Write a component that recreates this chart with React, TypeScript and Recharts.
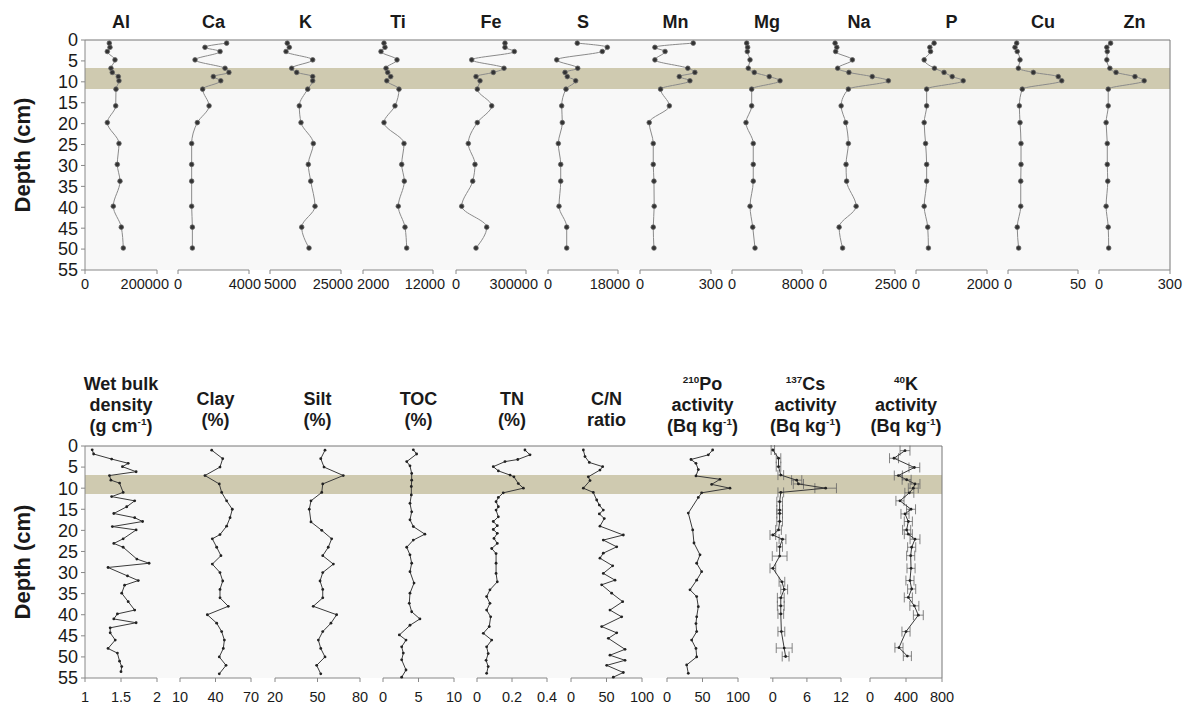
import React from "react";
import {
  ComposedChart,
  LineChart,
  Line,
  XAxis,
  YAxis,
  CartesianGrid,
  ReferenceArea,
  ReferenceLine,
  ErrorBar,
} from "recharts";

// ---- upper panel: elements (mg/kg), sampled at the same depths ----
const elemDepth = [0.75, 1.75, 2.75, 4.75, 6.75, 7.75, 8.75, 9.75, 11.75, 15.75, 19.75, 24.75, 29.75, 33.75, 39.75, 44.75, 49.75];

const al = [67500, 69400, 62000, 83300, 72200, 75800, 92500, 94400, 86100, 85300, 62000, 94400, 89700, 97200, 78600, 100800, 106400];
const ca = [2740, 1520, 2370, 960, 2650, 2870, 1990, 2410, 1390, 1750, 1090, 770, 770, 770, 770, 810, 810];
const kEl = [9870, 10440, 9510, 17030, 11110, 12520, 17030, 17030, 15620, 13250, 13730, 17200, 15790, 16470, 17680, 13930, 15990];
const ti = [5000, 5140, 4570, 6860, 5290, 5530, 5960, 5400, 7140, 6570, 5000, 7860, 7530, 7900, 7040, 8000, 8240];
const fe = [210000, 210000, 250000, 67300, 205700, 160000, 85700, 102900, 91300, 153000, 91300, 52700, 81400, 71600, 24400, 131600, 85700];
const s = [7530, 15250, 13960, 2240, 7640, 4370, 4960, 7120, 4630, 3520, 3680, 2650, 3270, 3270, 2830, 4810, 4810];
const mn = [225, 63, 106, 63, 202, 232, 166, 211, 87, 124, 39, 56, 56, 59, 60, 56, 59];
const mg = [1680, 1790, 1750, 2060, 1860, 2550, 4260, 5490, 2250, 2250, 1600, 2430, 2430, 2430, 2060, 2370, 2630];
const na = [420, 480, 440, 1020, 510, 900, 1710, 2270, 880, 630, 790, 880, 800, 820, 1150, 560, 680];
const p = [510, 390, 410, 230, 520, 790, 1020, 1330, 300, 300, 230, 270, 300, 300, 230, 330, 350];
const cu = [6.2, 5.0, 6.6, 8.6, 7.4, 18.1, 35.9, 38.4, 10.2, 8.1, 8.6, 9.3, 9.3, 9.1, 9.1, 6.6, 7.6];
const zn = [49, 33, 35, 33, 46, 72, 152, 191, 39, 39, 30, 35, 35, 37, 30, 39, 41];

// ---- lower panel: physical / organic / radionuclide profiles ----
const wbdDepth = [0.9, 1.9, 3.1, 4.1, 4.9, 6.1, 7.0, 8.1, 8.8, 11.0, 12.0, 13.0, 14.4, 16.0, 17.0, 17.9, 19.1, 19.9, 22.0, 23.1, 24.0, 26.8, 27.8, 28.8, 30.8, 31.9, 33.0, 34.9, 36.9, 38.9, 39.8, 41.0, 41.9, 43.1, 44.3, 46.0, 48.0, 49.1, 51.0, 52.3, 53.5];
const wbd = [1.10, 1.12, 1.37, 1.60, 1.52, 1.71, 1.34, 1.36, 1.48, 1.53, 1.37, 1.69, 1.58, 1.40, 1.69, 1.80, 1.38, 1.71, 1.53, 1.40, 1.53, 1.72, 1.89, 1.32, 1.59, 1.74, 1.55, 1.51, 1.60, 1.69, 1.45, 1.40, 1.71, 1.35, 1.35, 1.42, 1.32, 1.45, 1.48, 1.51, 1.50];

const clayDepth = [1, 3, 5, 7, 9, 11, 13, 15, 17, 19, 21, 22, 24, 26, 28, 30, 32, 34, 36, 38, 40, 42, 44, 46, 48, 50, 52, 54];
const clay = [36.8, 46.1, 43.8, 31.1, 43.2, 45.2, 49.4, 54.2, 52.3, 49.4, 43.8, 37.3, 41.0, 44.6, 37.3, 43.8, 46.1, 43.8, 43.8, 50.8, 33.1, 41.0, 45.2, 47.5, 46.6, 43.2, 48.9, 43.2];

const siltDepth = [1, 3, 5, 7, 9, 11, 13, 15, 18, 20, 22, 24, 26, 28, 30, 32, 34, 36, 38, 40, 42, 44, 46, 48, 50, 52, 54];
const silt = [55.3, 52.3, 54.6, 68.2, 53.7, 53.0, 45.4, 44.2, 45.4, 53.0, 60.0, 57.6, 53.7, 61.2, 53.7, 51.8, 53.7, 53.7, 47.0, 63.5, 59.5, 53.7, 50.6, 52.3, 55.3, 49.4, 52.3];

const tocDepth = [0.9, 1.9, 3.7, 4.7, 6.5, 8.1, 9.6, 11.6, 13.6, 15.6, 17.5, 19.1, 20.9, 22.3, 24.0, 25.8, 27.8, 29.8, 32.5, 34.9, 37.3, 39.3, 41.0, 42.5, 44.8, 46.0, 47.6, 49.1, 50.7, 53.1, 54.8];
const toc = [4.27, 4.74, 3.34, 3.8, 4.04, 4.04, 3.99, 3.99, 3.8, 4.04, 3.8, 4.27, 5.9, 4.27, 3.34, 3.8, 4.04, 3.8, 4.37, 3.8, 3.7, 4.04, 5.2, 3.8, 2.3, 3.24, 2.63, 2.86, 2.63, 3.24, 2.63];

const tnDepth = [0.95, 2.1, 3.2, 3.7, 4.9, 5.9, 6.9, 7.3, 8.9, 10.0, 11.1, 12.2, 13.2, 14.4, 15.2, 16.8, 17.9, 18.9, 19.8, 20.7, 21.9, 23.1, 24.3, 25.5, 27.8, 30.2, 32.2, 34.1, 35.7, 37.3, 38.9, 40.5, 42.8, 44.4, 46.0, 47.6, 49.2, 50.8, 52.3, 53.9];
const tn = [0.274, 0.303, 0.233, 0.16, 0.093, 0.122, 0.189, 0.211, 0.236, 0.265, 0.15, 0.122, 0.109, 0.122, 0.109, 0.122, 0.093, 0.116, 0.093, 0.116, 0.097, 0.116, 0.084, 0.109, 0.109, 0.109, 0.116, 0.074, 0.055, 0.074, 0.055, 0.078, 0.07, 0.036, 0.084, 0.055, 0.064, 0.052, 0.064, 0.055];

const cnDepth = [0.95, 2.5, 3.9, 4.9, 5.7, 7.3, 8.2, 10.0, 11.0, 12.8, 14.0, 15.2, 16.1, 17.2, 19.0, 21.1, 22.3, 23.9, 25.4, 26.6, 28.4, 30.2, 31.8, 32.9, 34.9, 36.9, 38.9, 40.5, 42.8, 44.3, 45.6, 48.2, 49.6, 50.8, 52.0, 53.7, 54.8];
const cn = [17.4, 19.7, 25.8, 44.6, 40.8, 24.4, 26.8, 17.4, 31.4, 36.2, 39.9, 45.5, 39.9, 46.9, 40.8, 73.7, 45.5, 64.4, 45.5, 40.8, 58.7, 45.5, 62.0, 43.2, 57.3, 72.8, 54.9, 71.4, 43.2, 64.4, 52.6, 76.1, 54.9, 76.1, 50.3, 73.7, 59.6];

const poDepth = [0.95, 2.1, 3.2, 4.1, 5.6, 7.1, 7.9, 9.1, 10.0, 11.1, 12.2, 15.9, 19.9, 23.0, 25.8, 27.8, 29.8, 31.8, 34.1, 35.7, 38.1, 40.5, 42.1, 44.0, 46.0, 48.0, 50.0, 51.9, 53.9];
const po = [64.3, 58.2, 33.8, 40.8, 44.1, 40.8, 74.6, 62.9, 88.7, 48.8, 44.1, 30.0, 36.2, 38.0, 46.5, 41.8, 48.8, 41.8, 32.4, 41.8, 44.1, 41.8, 40.8, 41.8, 34.7, 40.8, 41.8, 27.7, 30.0];

const csDepth = [0.95, 2.9, 4.9, 6.9, 8.1, 9.0, 10.0, 11.0, 13.2, 15.2, 16.0, 17.9, 19.9, 21.1, 22.1, 23.9, 26.1, 29.0, 32.2, 34.0, 36.0, 37.9, 39.8, 44.0, 47.9, 49.9];
const cs = [0, 1.0, 1.0, 1.4, 4.2, 4.5, 9.3, 1.4, 1.2, 1.2, 1.2, 1.2, 1.0, 0, 1.7, 1.2, 1.2, 0, 1.6, 2.0, 1.4, 1.4, 1.4, 1.5, 2.0, 2.25];
const csErr = [0.3, 0.4, 0.4, 0.5, 0.9, 0.9, 1.9, 0.5, 0.5, 0.5, 0.5, 0.5, 0.5, 0.5, 0.6, 0.5, 1.3, 0.5, 0.5, 0.6, 0.6, 0.6, 0.5, 0.6, 1.4, 0.6];

const k40Depth = [1.1, 2.9, 5.1, 7.0, 8.0, 9.0, 10.0, 11.1, 13.0, 15.0, 16.1, 17.9, 19.9, 20.9, 22.1, 24.0, 26.0, 29.0, 31.9, 33.9, 35.9, 37.9, 40.1, 44.0, 47.8, 49.8];
const k40 = [389, 267, 493, 315, 407, 500, 481, 437, 333, 456, 389, 426, 407, 426, 500, 463, 452, 456, 444, 463, 426, 493, 537, 400, 322, 415];
const k40Err = [55, 50, 60, 45, 50, 55, 55, 50, 45, 50, 45, 45, 45, 45, 55, 45, 45, 45, 45, 45, 45, 50, 55, 45, 45, 45];

const depthTicks = [0, 5, 10, 15, 20, 25, 30, 35, 40, 45, 50, 55];
const topBand = [6.7, 11.7];
const botBand = [6.9, 11.4];

type Row = { d: number; v: number; e?: number };
const zip = (depth: number[], vals: number[], err?: number[]): Row[] =>
  depth.map((d, i) => ({ d, v: vals[i], e: err ? err[i] : undefined }));

const topProfiles = [
  { name: "Al", vals: al, ticks: [0, 200000] },
  { name: "Ca", vals: ca, ticks: [0, 4000] },
  { name: "K", vals: kEl, ticks: [5000, 25000] },
  { name: "Ti", vals: ti, ticks: [2000, 12000] },
  { name: "Fe", vals: fe, ticks: [0, 300000] },
  { name: "S", vals: s, ticks: [0, 18000] },
  { name: "Mn", vals: mn, ticks: [0, 300] },
  { name: "Mg", vals: mg, ticks: [0, 8000] },
  { name: "Na", vals: na, ticks: [0, 2500] },
  { name: "P", vals: p, ticks: [0, 2000] },
  { name: "Cu", vals: cu, ticks: [0, 50] },
  { name: "Zn", vals: zn, ticks: [0, 300] },
];

const sup = (t: string) => <sup style={{ fontSize: "0.55em", lineHeight: 0 }}>{t}</sup>;

const botProfiles = [
  { title: [<>Wet bulk</>, <>density</>, <>(g cm{sup("-1")})</>], data: zip(wbdDepth, wbd), ticks: [1, 1.5, 2] },
  { title: [<>Clay</>, <>(%)</>], data: zip(clayDepth, clay), ticks: [10, 40, 70] },
  { title: [<>Silt</>, <>(%)</>], data: zip(siltDepth, silt), ticks: [20, 50, 80] },
  { title: [<>TOC</>, <>(%)</>], data: zip(tocDepth, toc), ticks: [0, 5, 10] },
  { title: [<>TN</>, <>(%)</>], data: zip(tnDepth, tn), ticks: [0, 0.2, 0.4] },
  { title: [<>C/N</>, <>ratio</>], data: zip(cnDepth, cn), ticks: [0, 50, 100] },
  { title: [<>{sup("210")}Po</>, <>activity</>, <>(Bq kg{sup("-1")})</>], data: zip(poDepth, po), ticks: [0, 50, 100] },
  { title: [<>{sup("137")}Cs</>, <>activity</>, <>(Bq kg{sup("-1")})</>], data: zip(csDepth, cs, csErr), ticks: [0, 6, 12] },
  { title: [<>{sup("40")}K</>, <>activity</>, <>(Bq kg{sup("-1")})</>], data: zip(k40Depth, k40, k40Err), ticks: [0, 400, 800] },
];

// layout (page pixels)
const TOP = { top: 0, height: 300, plotTop: 40, plotBottom: 270, right: 1170, tickMargin: 5, edgeTicks: true };
const BOT = { top: 400, height: 310, plotTop: 446, plotBottom: 678, right: 942, tickMargin: 10, edgeTicks: false };
const topSlots = [85, 178, 270, 363, 456, 548, 640, 732, 823, 916, 1008, 1099];
const topWidths = [72, 71, 71, 70, 70, 70, 71, 70, 72, 71, 70, 71];
const botSlots = [85, 180, 275, 383, 477, 571, 667, 770, 870];
const botWidths = [72, 71, 85, 71, 70, 71, 71, 71, 72];

type Panel = typeof TOP;
const TICK_FONT = 14.5;

function Frame({ panel, band }: { panel: Panel; band: number[] }) {
  return (
    <div style={{ position: "absolute", left: 0, top: panel.top }}>
      <ComposedChart
        width={panel.right + 5}
        height={panel.height}
        data={[{ x: 0, d: 0 }]}
        margin={{ top: panel.plotTop - panel.top, right: 5, left: 0, bottom: panel.top + panel.height - panel.plotBottom }}
      >
        <CartesianGrid horizontal={false} vertical={false} fill="#f8f8f8" />
        <XAxis type="number" dataKey="x" domain={[0, 1]} hide />
        <YAxis
          type="number"
          dataKey="d"
          domain={[0, 55]}
          ticks={depthTicks}
          interval={0}
          reversed
          width={85}
          tickSize={4}
          tickMargin={3}
          tick={{ fontSize: 18, fill: "#1a1a1a" }}
          axisLine={{ stroke: "#888" }}
          tickLine={{ stroke: "#888" }}
          label={{
            value: "Depth (cm)",
            angle: -90,
            position: "insideLeft",
            offset: 22,
            style: { textAnchor: "middle", fontSize: 22, fontWeight: "bold", fill: "#1a1a1a" },
          }}
        />
        <ReferenceArea y1={band[0]} y2={band[1]} fill="#cfcab0" fillOpacity={1} stroke="none" />
        <ReferenceLine y={0} stroke="#777" />
        <ReferenceLine x={1} stroke="#777" />
      </ComposedChart>
    </div>
  );
}

// end labels of the narrow element axes are nudged inward, as in the source figure
function edgeTick(props: any, ticks: number[], nudge: boolean) {
  const { x, y, payload } = props;
  const label = String(payload.value);
  const hw = (label.length * TICK_FONT * 0.556) / 2;
  let anchor: "start" | "middle" | "end" = "middle";
  let px = x;
  if (nudge && payload.value === ticks[0] && hw > 8) {
    anchor = "start";
    px = x - 6;
  } else if (nudge && payload.value === ticks[ticks.length - 1] && hw > 12) {
    anchor = "end";
    px = x + 12;
  }
  return (
    <text x={px} y={y} dy="0.71em" textAnchor={anchor} fontSize={TICK_FONT} fill="#1a1a1a">
      {label}
    </text>
  );
}

function Profile({
  panel, left, width, data, ticks, smooth,
}: { panel: Panel; left: number; width: number; data: Row[]; ticks: number[]; smooth: boolean }) {
  const pad = 32;
  const hasErr = data.some((r) => r.e !== undefined);
  return (
    <div style={{ position: "absolute", left: left - pad, top: panel.top }}>
      <LineChart
        layout="vertical"
        width={width + pad * 2}
        height={panel.height}
        data={data}
        margin={{ top: panel.plotTop - panel.top, right: pad, left: pad, bottom: 0 }}
      >
        <XAxis
          type="number"
          dataKey="v"
          domain={[ticks[0], ticks[ticks.length - 1]]}
          ticks={ticks}
          interval={0}
          height={panel.top + panel.height - panel.plotBottom}
          tickSize={4}
          tickMargin={panel.tickMargin}
          tick={(pr: any) => edgeTick(pr, ticks, panel.edgeTicks)}
          axisLine={{ stroke: "#888" }}
          tickLine={{ stroke: "#888" }}
        />
        <YAxis type="number" dataKey="d" domain={[0, 55]} hide />
        <Line
          dataKey="v"
          type={smooth ? "monotone" : "linear"}
          stroke={smooth ? "#8a8a8a" : "#3a3a3a"}
          strokeWidth={1}
          dot={smooth ? { r: 2.3, fill: "#333", stroke: "#666", strokeWidth: 0.8 } : { r: 1.4, fill: "#222", stroke: "none" }}
          isAnimationActive={false}
        >
          {hasErr && <ErrorBar dataKey="e" direction="x" width={5} stroke="#666" strokeWidth={0.8} isAnimationActive={false} />}
        </Line>
      </LineChart>
    </div>
  );
}

const titleStyle: React.CSSProperties = {
  position: "absolute",
  width: 160,
  textAlign: "center",
  fontWeight: "bold",
  fontSize: 18,
  lineHeight: "21px",
  color: "#1a1a1a",
  whiteSpace: "nowrap",
};

export default function App() {
  return (
    <div
      style={{
        position: "absolute",
        left: 0,
        top: 0,
        width: 1191,
        height: 714,
        background: "#fff",
        fontFamily: "'Liberation Sans', Arial, sans-serif",
        overflow: "hidden",
      }}
    >
      <Frame panel={TOP} band={topBand} />
      <Frame panel={BOT} band={botBand} />

      {topProfiles.map((el, i) => (
        <div key={el.name}>
          <div style={{ ...titleStyle, left: topSlots[i] + topWidths[i] / 2 - 80, top: 12 }}>{el.name}</div>
          <Profile panel={TOP} left={topSlots[i]} width={topWidths[i]} data={zip(elemDepth, el.vals)} ticks={el.ticks} smooth />
        </div>
      ))}

      {botProfiles.map((pr, i) => (
        <div key={i}>
          <div
            style={{
              ...titleStyle,
              left: botSlots[i] + botWidths[i] / 2 - 80,
              top: pr.title.length === 3 ? 374 : 389,
            }}
          >
            {pr.title.map((line, j) => (
              <div key={j}>{line}</div>
            ))}
          </div>
          <Profile panel={BOT} left={botSlots[i]} width={botWidths[i]} data={pr.data} ticks={pr.ticks} smooth={false} />
        </div>
      ))}
    </div>
  );
}
